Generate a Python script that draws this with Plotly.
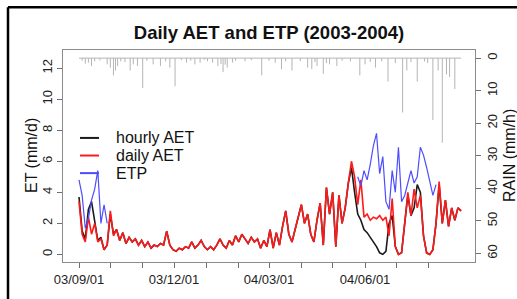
import pandas as pd
import plotly.graph_objects as go

# ---------------- data ----------------
start_date = "2003-09-01"
step_days = 3

daily_aet = [3.4,1.3,0.8,2.4,1.3,2.0,0.8,1.0,0.3,0.6,
             2.8,1.2,1.6,0.9,1.4,0.7,1.1,0.8,1.0,0.6,
             0.9,0.5,0.8,0.4,0.6,0.5,0.7,0.6,1.5,0.6,
             0.3,0.2,0.4,0.3,0.5,0.4,0.8,0.4,0.6,0.9,
             0.5,0.3,0.5,0.3,0.6,1.0,0.6,0.4,0.9,0.6,
             1.2,0.8,1.3,1.0,0.7,1.1,0.8,1.0,0.4,0.9,
             0.5,1.6,0.4,1.4,0.6,1.8,2.8,1.3,0.8,1.6,
             2.4,3.2,2.0,2.6,1.3,0.8,2.2,3.3,0.6,4.3,
             2.6,4.0,0.5,3.8,2.0,3.0,4.6,6.0,5.0,3.2,
             4.8,2.4,2.6,2.2,2.4,2.3,2.5,2.2,2.4,1.2,
             3.6,0.5,0.0,0.1,2.0,4.0,2.5,4.2,3.0,3.8,
             1.2,0.1,0.0,0.3,2.0,4.7,2.0,3.5,1.8,3.0,
             2.2,3.0,2.8]

hourly_aet = [3.7,1.5,1.0,2.9,3.4,2.2,0.9,1.1,0.3,0.6,
              2.6,1.3,1.6,0.9,1.4,0.7,1.1,0.8,1.0,0.6,
              0.9,0.5,0.8,0.4,0.6,0.5,0.7,0.6,1.5,0.6,
              0.3,0.2,0.4,0.3,0.5,0.4,0.8,0.4,0.6,0.9,
              0.5,0.3,0.5,0.3,0.6,1.0,0.6,0.4,0.9,0.6,
              1.2,0.8,1.3,1.0,0.7,1.1,0.8,1.0,0.4,0.9,
              0.5,1.6,0.4,1.4,0.6,1.8,2.8,1.3,0.8,1.6,
              2.4,3.2,2.0,2.6,1.3,0.8,2.2,3.3,0.6,4.3,
              2.6,4.0,0.5,3.8,2.0,3.0,4.6,5.6,4.0,2.6,
              2.2,1.6,1.4,1.1,0.8,0.5,0.1,0.0,0.2,2.0,
              2.5,0.5,0.0,0.1,2.0,3.8,2.5,3.0,4.5,4.0,
              1.2,0.1,0.0,0.3,2.0,4.5,2.0,3.5,1.8,3.0,
              2.2,3.0,2.8]

etp_early_start = 0     # index in the 3-day grid
etp_early = [4.8,3.8,1.7,2.3,3.5,4.2,5.4,2.0,3.2,2.0]
etp_late_start = 89
etp_late = [5.0,4.4,5.4,4.8,5.8,7.0,7.8,5.2,6.3,3.4,2.9,5.4,4.0,
            6.9,3.4,3.8,4.6,5.4,4.6,5.0,6.9,6.4,5.6,4.8,3.8,4.5]

rain_day = [3,6,9,12,15,20,27,30,33,35,37,40,44,49,52,56,61,65,71,78,
            83,87,92,98,103,107,111,116,120,123,128,133,136,138,140,142,147,150,159,165,
            175,182,188,194,198,204,212,219,223,226,228,234,237,240,247,252,260,269,274,279,
            284,290,296,303,310,314,318,324,331,334,339,344,348,352,355,360]
rain_mm = [0.8,1.7,1.4,2.4,1.0,0.7,1.9,2.9,5.3,3.8,2.4,1.0,1.2,3.8,1.9,2.4,9.2,0.8,1.9,2.4,
           1.0,2.9,8.6,0.6,1.4,0.8,1.9,1.4,0.5,1.0,1.4,2.4,1.8,4.3,2.0,2.9,1.4,0.8,1.0,0.6,
           5.3,0.8,1.4,3.4,1.0,3.8,0.9,2.9,3.4,1.2,2.4,4.8,1.5,1.9,2.4,0.8,1.0,5.3,1.9,1.2,
           2.9,1.0,7.2,1.5,16.7,3.8,1.2,7.2,1.0,1.5,19.0,3.8,26.0,5.0,5.8,9.5]

tick_dates = ["2003-09-01","2003-10-01","2003-11-01","2003-12-01","2004-01-01","2004-02-01",
              "2004-03-01","2004-04-01","2004-05-01","2004-06-01","2004-07-01","2004-08-01"]
tick_text = ["03/09/01","","","03/12/01","","","04/03/01","","","04/06/01","",""]

et_ticks = [0, 2, 4, 6, 8, 10, 12]
rain_ticks = [0, 10, 20, 30, 40, 50, 60]

# ---------------- build ----------------
dates = pd.date_range(start_date, periods=len(daily_aet), freq=f"{step_days}D")
t0 = pd.Timestamp(start_date)

rx, ry = [], []
for d, v in zip(rain_day, rain_mm):
    dd = t0 + pd.Timedelta(days=d)
    rx += [dd, dd, None]
    ry += [0, v, None]

etp_x = list(dates[etp_early_start:etp_early_start + len(etp_early)]) + [None] + \
        list(dates[etp_late_start:etp_late_start + len(etp_late)])
etp_y = etp_early + [None] + etp_late

FONT = "Liberation Sans, Arial, Helvetica, sans-serif"

fig = go.Figure()
fig.add_trace(go.Scatter(x=rx, y=ry, yaxis="y2", mode="lines",
                         line=dict(color="#b4b4b4", width=1), showlegend=False, hoverinfo="skip"))
fig.add_trace(go.Scatter(x=[dates[0], dates[-1]], y=[0, 0], yaxis="y2", mode="lines",
                         line=dict(color="#b4b4b4", width=1), showlegend=False, hoverinfo="skip"))
fig.add_trace(go.Scatter(x=dates, y=hourly_aet, mode="lines", name="hourly AET",
                         line=dict(color="#1a1a1a", width=1.6), showlegend=False))
fig.add_trace(go.Scatter(x=dates, y=daily_aet, mode="lines", name="daily AET",
                         line=dict(color="#ff1a1a", width=1.6), showlegend=False))
fig.add_trace(go.Scatter(x=etp_x, y=etp_y, mode="lines", name="ETP", connectgaps=False,
                         line=dict(color="#4d4dff", width=1.2), showlegend=False))

# plot area in pixels: x 63..475, y 50..273
L, R, T, B = 63, 475, 50, 273
W, H = 517, 299
def px(x): return (x - L) / (R - L)
def py(y): return (B - y) / (B - T)

axis_common = dict(showgrid=False, zeroline=False, showline=True, linecolor="#8c8c8c",
                   linewidth=1, ticks="outside", ticklen=5, tickcolor="#6e6e6e",
                   tickfont=dict(family=FONT, size=13, color="#222"))

fig.update_layout(
    width=W, height=H,
    margin=dict(l=L, r=W - R, t=T, b=H - B),
    paper_bgcolor="white", plot_bgcolor="white",
    showlegend=False,
    title=dict(text="<b>Daily AET and ETP (2003-2004)</b>", x=0.5, xref="paper",
               y=1 - 33 / H, yref="container", yanchor="middle", xanchor="center",
               font=dict(family=FONT, size=18.5, color="#111")),
    xaxis=dict(type="date", range=["2003-08-16 16:00", "2004-09-14 08:00"],
               tickvals=tick_dates, ticktext=tick_text, mirror=True, **axis_common),
    yaxis=dict(range=[-0.49, 13.17], tickvals=et_ticks, tickangle=-90, mirror=True, **axis_common),
    yaxis2=dict(overlaying="y", side="right", range=[62.6, -2.5], tickvals=rain_ticks,
                tickangle=-90, **axis_common),
)

# axis titles
fig.add_annotation(text="ET (mm/d)", xref="paper", yref="paper", x=px(31), y=0.5,
                   xanchor="center", yanchor="middle",
                   textangle=-90, showarrow=False, font=dict(family=FONT, size=16, color="#111"))
fig.add_annotation(text="RAIN (mm/h)", xref="paper", yref="paper", x=px(509), y=0.5,
                   xanchor="center", yanchor="middle",
                   textangle=-90, showarrow=False, font=dict(family=FONT, size=16, color="#111"))

# legend (drawn manually to match the R-style legend)
legend_items = [("hourly AET", "#1a1a1a", 142.5), ("daily AET", "#ff1a1a", 161), ("ETP", "#4d4dff", 179.5)]
for name, col, yy in legend_items:
    fig.add_shape(type="line", xref="paper", yref="paper", x0=px(80), x1=px(99),
                  y0=py(yy), y1=py(yy), line=dict(color=col, width=2))
    fig.add_annotation(text=name, xref="paper", yref="paper", x=px(114), y=py(yy),
                       xanchor="left", yanchor="middle", showarrow=False,
                       font=dict(family=FONT, size=16, color="#111"))

# outer black frame (left and top edges visible in the reference)
fig.add_shape(type="line", xref="paper", yref="paper", x0=px(8), x1=px(8),
              y0=py(5), y1=py(320), line=dict(color="black", width=2.5))
fig.add_shape(type="line", xref="paper", yref="paper", x0=px(8), x1=px(540),
              y0=py(5), y1=py(5), line=dict(color="black", width=2.5))

fig.write_html("out.html", config={"displayModeBar": False},
               post_script="document.body.style.margin='0';")
